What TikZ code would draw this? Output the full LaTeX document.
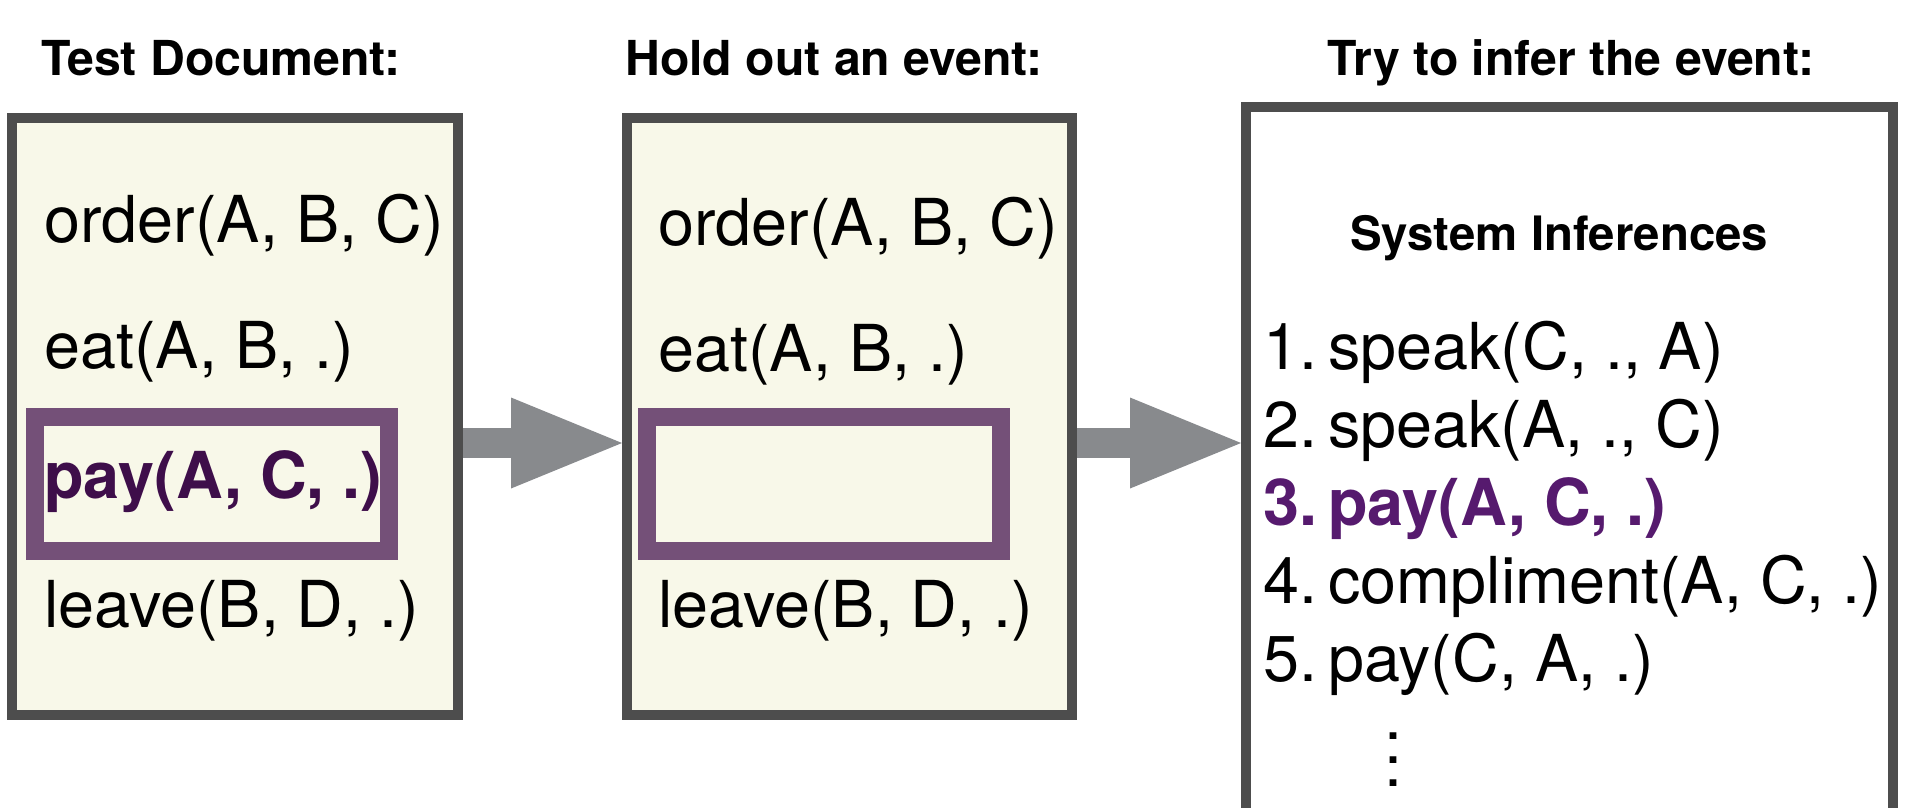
\documentclass[tikz,border=0pt]{standalone}
\usepackage{fontspec}
\setmainfont{TeX Gyre Heros}
\usetikzlibrary{arrows.meta}
\definecolor{framegray}{HTML}{4D4D4D}
\definecolor{cream}{HTML}{F8F8E9}
\definecolor{holdpurple}{HTML}{745078}
\definecolor{arrowgray}{HTML}{888A8D}
\definecolor{evpurple}{HTML}{3E0E4A}
\definecolor{infpurple}{HTML}{561A6E}
\newcommand{\rank}[1]{#1.\hspace{11pt}}
\begin{document}
\begin{tikzpicture}[x=1pt,y=-1pt,
  docbox/.style={draw=framegray, line width=10pt, fill=cream, inner sep=0pt},
  outbox/.style={draw=framegray, line width=10pt, fill=white, inner sep=0pt},
  heldbox/.style={draw=holdpurple, line width=18pt, inner sep=0pt,
    minimum width=354pt, minimum height=134pt},
  title/.style={anchor=base west, inner sep=0pt, font=\fontsize{48.2}{56}\selectfont\bfseries},
  ev/.style={anchor=base west, inner sep=0pt, font=\fontsize{64.7}{76}\selectfont},
  evbold/.style={ev, font=\fontsize{64.7}{76}\selectfont\bfseries},
  bigarrow/.style={draw=arrowgray, line width=30pt,
    -{Triangle[length=111pt, width=91pt, line width=0pt]}}]
\useasboundingbox (0,0) rectangle (1930,807);
\begin{scope}
\clip (0,0) rectangle (1930,807);

% column titles
\node[title] (t1) at (41,75) {Test Document:};
\node[title] (t2) at (625,75) {Hold out an event:};
\node[title] (t3) at (1327,75) {Try to infer the event:};

% the three panels
\node[docbox, minimum width=446pt, minimum height=597pt] (doc) at (235,416.5) {};
\node[docbox, minimum width=445pt, minimum height=597pt] (held) at (849.5,416.5) {};
\node[outbox, minimum width=647pt, minimum height=793pt] (infer) at (1569.5,503.5) {};

% highlighted / removed event
\node[heldbox] (sel) at (211.5,484) {};
\node[heldbox] (gap) at (823.5,484) {};

% test document events
\node[ev] (d1) at (44,242) {order(A, B, C)};
\node[ev] (d2) at (44,368) {eat(A, B, .)};
\node[evbold, text=evpurple] (d3) at (44,498) {pay(A, C, .)};
\node[ev] (d4) at (44,627) {leave(B, D, .)};

% events with one held out
\node[ev] (h1) at (658,245) {order(A, B, C)};
\node[ev] (h2) at (658,371) {eat(A, B, .)};
\node[ev] (h4) at (658,627) {leave(B, D, .)};

% ranked inferences
\node[anchor=base west, inner sep=0pt, font=\fontsize{47.4}{56}\selectfont\bfseries] (sys) at (1350,250) {System Inferences};
\node[ev] (r1) at (1263,369.5) {\rank{1}speak(C, ., A)};
\node[ev] (r2) at (1263,447.5) {\rank{2}speak(A, ., C)};
\node[evbold, text=infpurple] (r3) at (1263,525.5) {\rank{3}pay(A, C, .)};
\node[ev] (r4) at (1263,603.5) {\rank{4}compliment(A, C, .)};
\node[ev] (r5) at (1263,681.5) {\rank{5}pay(C, A, .)};
\node[anchor=south, inner sep=0pt, align=center,
      font=\fontsize{64.7}{23.5}\selectfont] (more) at (1393.5,787) {.\\.\\.};

% flow arrows
\coordinate (a1) at ([yshift=-26.5pt]doc.east);
\coordinate (a2) at ([yshift=-26.5pt]held.east);
\draw[bigarrow] (a1) -- (a1 -| held.west);
\draw[bigarrow] (a2) -- (a2 -| infer.west);
\end{scope}
\end{tikzpicture}
\end{document}
